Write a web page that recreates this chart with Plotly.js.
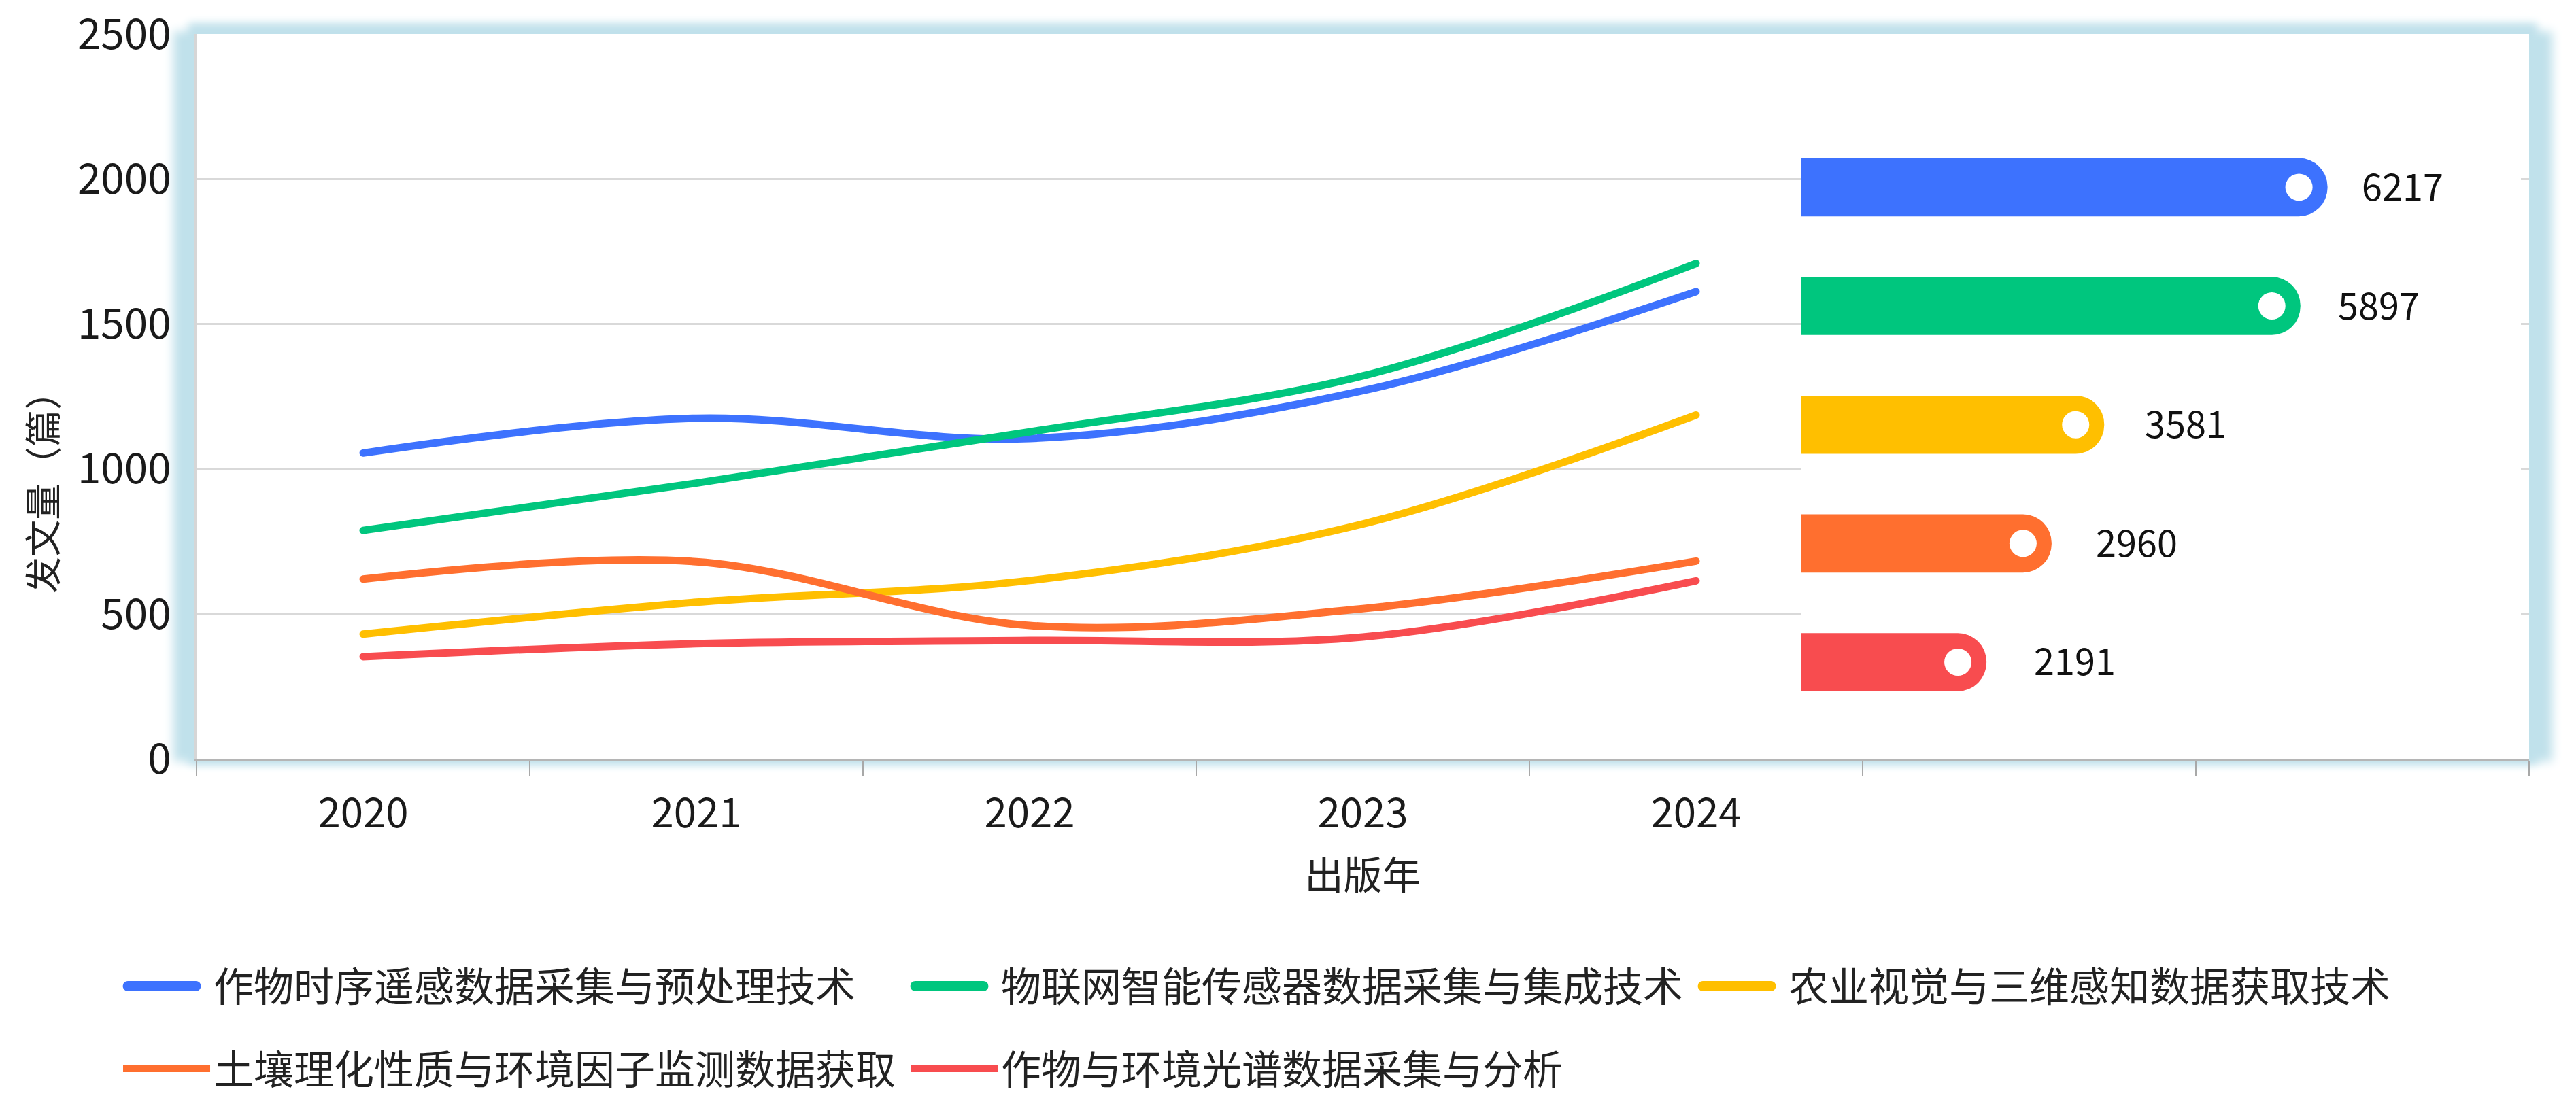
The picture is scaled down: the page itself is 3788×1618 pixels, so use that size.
<!DOCTYPE html>
<html>
<head>
<meta charset="utf-8">
<script src="https://cdn.plot.ly/plotly-3.0.1.min.js"></script>
<style>
html, body { margin: 0; padding: 0; background: #ffffff; }
#wrap { position: relative; width: 3788px; height: 1618px; overflow: hidden; background: #ffffff; }
.glow { position: absolute; background: #ffffff; }
#chart { position: absolute; left: 0; top: 0; width: 3788px; height: 1618px; }
.scatterlayer .js-line { stroke-linecap: round; }
.legend .legendlines path { d: path("M12,0h100"); stroke-width: 15px !important; stroke-linecap: round; }
</style>
</head>
<body>
<div id="wrap">
  <div id="glowA" class="glow"></div>
  <div id="glowB" class="glow"></div>
  <div id="chart"></div>
</div>
<script>
// ---------- data ----------
const years = [2020, 2021, 2022, 2023, 2024];
const yearLabels = ['2020', '2021', '2022', '2023', '2024'];
const seriesNames = [
  '作物时序遥感数据采集与预处理技术',
  '物联网智能传感器数据采集与集成技术',
  '农业视觉与三维感知数据获取技术',
  '土壤理化性质与环境因子监测数据获取',
  '作物与环境光谱数据采集与分析'
];
const remoteSensing = [1055, 1175, 1105, 1270, 1612];
const iotSensors    = [788, 951, 1128, 1321, 1709];
const visionThreeD  = [430, 540, 615, 810, 1186];
const soilEnv       = [620, 680, 460, 518, 682];
const spectral      = [352, 397, 408, 420, 614];
const totals        = [6217, 5897, 3581, 2960, 2191];
const yTickVals     = [0, 500, 1000, 1500, 2000, 2500];
const yTitle = '发文量（篇）';
const xTitle = '出版年';

// ---------- styles ----------
const colors = ['#3D72FE', '#00C67E', '#FFBF00', '#FF6F2F', '#F84C4F'];
const FONT = "'Noto Sans CJK SC', 'Noto Sans', sans-serif";
const W = 3788, H = 1618;
const margin = { l: 289, r: 69, t: 50, b: 502, pad: 0 };
const plotW = W - margin.l - margin.r;
const plotH = H - margin.t - margin.b;

// glow frame behind the plot area
const gA = document.getElementById('glowA');
gA.style.left = margin.l + 'px'; gA.style.top = margin.t + 'px';
gA.style.width = plotW + 'px'; gA.style.height = plotH + 'px';
gA.style.boxShadow = '0 -4px 12px 12px #c0e1eb';
const gB = document.getElementById('glowB');
gB.style.left = margin.l + 'px'; gB.style.top = (margin.t + 30) + 'px';
gB.style.width = plotW + 'px'; gB.style.height = (plotH - 60) + 'px';
gB.style.boxShadow = '0 0 14px 34px #c0e1eb';

const lineSeries = [remoteSensing, iotSensors, visionThreeD, soilEnv, spectral];
const traces = lineSeries.map((vals, i) => ({
  type: 'scatter',
  mode: 'lines',
  name: seriesNames[i],
  x: years,
  y: vals,
  line: { color: colors[i], width: 11, shape: 'spline', smoothing: 1 },
  legend: i < 3 ? 'legend' : 'legend2',
  hoverinfo: 'skip'
}));

// inset horizontal bars of totals
const x2Domain = [0.6878, 0.9965];
const x2Range = [0, 8500];
const unitPx = (x2Domain[1] - x2Domain[0]) * plotW / (x2Range[1] - x2Range[0]);
const capPx = 42;

traces.push({
  type: 'bar',
  orientation: 'h',
  x: totals,
  y: seriesNames,
  xaxis: 'x2',
  yaxis: 'y2',
  marker: { color: colors, cornerradius: '50%', line: { width: 0 } },
  showlegend: false,
  hoverinfo: 'skip'
});
traces.push({
  type: 'scatter',
  mode: 'markers',
  x: totals.map(v => v - capPx / unitPx),
  y: seriesNames,
  xaxis: 'x2',
  yaxis: 'y2',
  marker: { color: '#ffffff', size: 40, line: { width: 0 } },
  showlegend: false,
  hoverinfo: 'skip'
});

const annotations = totals.map((v, i) => ({
  xref: 'x2', yref: 'y2', x: v, y: seriesNames[i],
  text: String(v), showarrow: false, xanchor: 'left', yanchor: 'middle',
  xshift: 48 + 5 * i, yshift: 4,
  font: { family: FONT, size: 54, color: '#111111' }
}));
// y-axis title, placed like the reference (below the axis middle)
annotations.push({
  xref: 'paper', yref: 'paper', x: -0.0665, y: 0.38,
  text: yTitle, textangle: -90, showarrow: false,
  xanchor: 'center', yanchor: 'middle',
  font: { family: FONT, size: 54, color: '#222222' }
});

const legendBase = {
  orientation: 'h',
  x: -0.03294,
  xanchor: 'left',
  yanchor: 'top',
  font: { family: FONT, size: 59, color: '#222222' },
  itemwidth: 128,
  entrywidth: 1015,
  entrywidthmode: 'pixels',
  bgcolor: 'rgba(0,0,0,0)',
  borderwidth: 0,
  traceorder: 'normal'
};

const layout = {
  width: W,
  height: H,
  margin: Object.assign({ autoexpand: false }, margin),
  paper_bgcolor: 'rgba(0,0,0,0)',
  plot_bgcolor: '#ffffff',
  font: { family: FONT, color: '#222222' },
  showlegend: true,
  bargap: 0.51,
  xaxis: {
    range: [2019.5, 2026.5],
    tickmode: 'array',
    tickvals: years,
    ticktext: yearLabels,
    ticks: '',
    showgrid: false,
    zeroline: false,
    showline: true,
    linecolor: '#b5b5b5',
    linewidth: 3,
    tickfont: { family: FONT, size: 60, color: '#1a1a1a' },
    ticklabelstandoff: 26,
    minor: { tick0: 2019.5, dtick: 1, ticks: 'outside', ticklen: 22, tickwidth: 2, tickcolor: '#a8a8a8', showgrid: false },
    title: { text: xTitle, font: { family: FONT, size: 57, color: '#222222' }, standoff: 36 },
    automargin: false,
    fixedrange: true
  },
  xaxis3: {
    overlaying: 'x',
    anchor: 'y',
    side: 'bottom',
    range: [2019.5, 2026.5],
    tickmode: 'linear',
    tick0: 2019.5,
    dtick: 1,
    ticks: 'inside',
    ticklen: 15,
    tickwidth: 2,
    tickcolor: '#a8a8a8',
    showticklabels: false,
    showgrid: false,
    zeroline: false,
    showline: false,
    fixedrange: true
  },
  yaxis: {
    range: [0, 2501],
    tickmode: 'array',
    tickvals: yTickVals,
    ticks: '',
    showgrid: true,
    gridcolor: '#d9d9d9',
    gridwidth: 3,
    zeroline: false,
    showline: true,
    linecolor: '#d6d6d6',
    linewidth: 3,
    tickfont: { family: FONT, size: 62, color: '#1a1a1a' },
    ticklabelstandoff: 22,
    ticklabeloverflow: 'allow',
    automargin: false,
    fixedrange: true
  },
  xaxis2: {
    domain: x2Domain,
    range: x2Range,
    anchor: 'y2',
    visible: false,
    fixedrange: true
  },
  yaxis2: {
    domain: [0.0513, 0.8705],
    anchor: 'x2',
    type: 'category',
    categoryarray: seriesNames,
    autorange: 'reversed',
    visible: false,
    fixedrange: true
  },
  legend: Object.assign({}, legendBase, { y: -0.2716 }),
  legend2: Object.assign({}, legendBase, { y: -0.3856 }),
  shapes: [{
    type: 'rect', xref: 'paper', yref: 'paper',
    x0: 0.6659, x1: 0.9959, y0: 0, y1: 1,
    fillcolor: '#ffffff', line: { width: 0 }, layer: 'between'
  }],
  annotations: annotations
};

Plotly.newPlot('chart', traces, layout, { displayModeBar: false, staticPlot: true });
</script>
</body>
</html>
